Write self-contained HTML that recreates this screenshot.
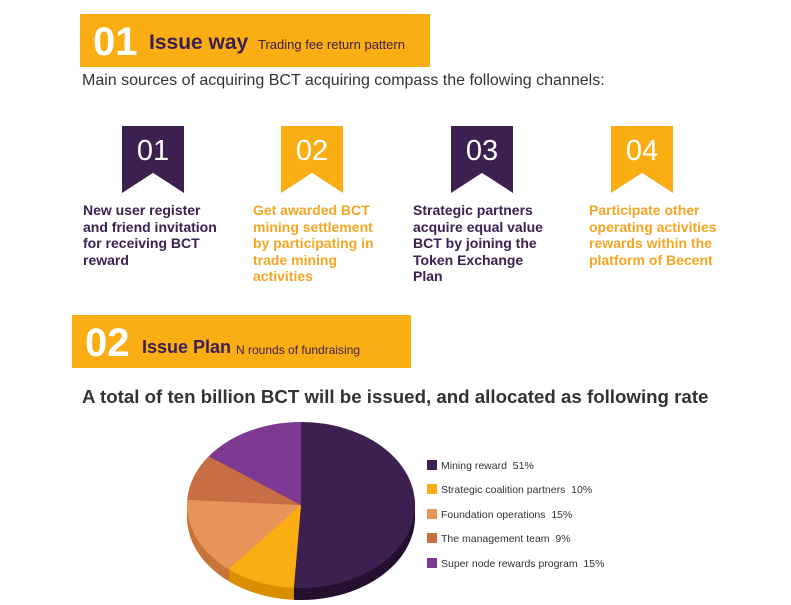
<!DOCTYPE html>
<html><head><meta charset="utf-8"><style>
body{margin:0;width:791px;height:605px;background:#fff;position:relative;overflow:hidden;font-family:"Liberation Sans",Arial,sans-serif}
.abs{position:absolute}
.banner{background:#FBAD14}
.ribbon{position:absolute;width:62px;height:67px;color:#fff;font-size:29px;text-align:center;line-height:50px;clip-path:polygon(0 0,100% 0,100% 100%,50% 70%,0 100%)}
.desc{position:absolute;top:202px;font-weight:bold;font-size:14px;line-height:16.5px;width:160px}
.pu{color:#3C2050}.or{color:#F5A623}
.leg{position:absolute;left:427px;font-size:10.5px;color:#333;white-space:nowrap}
.leg i{display:inline-block;width:10px;height:10px;margin-right:4px;vertical-align:-1px}
</style></head><body>
<div class="abs banner" style="left:80px;top:14px;width:350px;height:53px">
 <span class="abs" style="left:13px;top:6px;font-size:40px;font-weight:bold;color:#fff">01</span>
 <span class="abs" style="left:69px;top:17px;font-size:21px;font-weight:bold;color:#3C2050">Issue way</span>
 <span class="abs" style="left:178px;top:23px;font-size:13px;color:#3C2050">Trading fee return pattern</span>
</div>
<div class="abs" style="left:82px;top:72px;font-size:16px;color:#333">Main sources of acquiring BCT acquiring compass the following channels:</div>
<div class="ribbon" style="left:122px;top:126px;background:#3C2050">01</div>
<div class="ribbon" style="left:281px;top:126px;background:#FBAD14">02</div>
<div class="ribbon" style="left:451px;top:126px;background:#3C2050">03</div>
<div class="ribbon" style="left:611px;top:126px;background:#FBAD14">04</div>
<div class="desc pu" style="left:83px;width:135px">New user register and friend invitation for receiving BCT reward</div>
<div class="desc or" style="left:253px;width:140px">Get awarded BCT mining settlement by participating in trade mining activities</div>
<div class="desc pu" style="left:413px;width:138px">Strategic partners acquire equal value BCT by joining the Token Exchange Plan</div>
<div class="desc or" style="left:589px;width:150px">Participate other operating activities rewards within the platform of Becent</div>
<div class="abs banner" style="left:72px;top:315px;width:339px;height:53px">
 <span class="abs" style="left:13px;top:6px;font-size:40px;font-weight:bold;color:#fff">02</span>
 <span class="abs" style="left:70px;top:22px;font-size:18px;font-weight:bold;color:#3C2050">Issue Plan</span>
 <span class="abs" style="left:164px;top:28px;font-size:12px;color:#3C2050">N rounds of fundraising</span>
</div>
<div class="abs" style="left:82px;top:386px;font-size:18.7px;font-weight:bold;color:#333">A total of ten billion BCT will be issued, and allocated as following rate</div>
<svg class="abs" style="left:0;top:0" width="791" height="605" id="pie"></svg>
<div class="leg" style="top:460px"><i style="background:#3C2050"></i>Mining reward&nbsp; 51%</div>
<div class="leg" style="top:484px"><i style="background:#FBAD14"></i>Strategic coalition partners&nbsp; 10%</div>
<div class="leg" style="top:509px"><i style="background:#E8935A"></i>Foundation operations&nbsp; 15%</div>
<div class="leg" style="top:533px"><i style="background:#C96D45"></i>The management team&nbsp; 9%</div>
<div class="leg" style="top:558px"><i style="background:#7E3A92"></i>Super node rewards program&nbsp; 15%</div>
<script>
const categories=["Mining reward","Strategic coalition partners","Foundation operations","The management team","Super node rewards program"];
const values=[51,10,15,9,15];
const colors=["#3C2050","#FBAD14","#E8935A","#C96D45","#7E3A92"];
const sides=["#24102F","#D98E00","#C8733D","#A3552F","#5E2470"];
const svg=document.getElementById('pie');
const cx=301,cy=505,rx=114,ry=83,depth=12;
const total=values.reduce((a,b)=>a+b,0);
function pt(a,y0){return [cx+rx*Math.sin(a),y0-ry*Math.cos(a)];}
function slice(a0,a1,y0,fill,name){
 const p0=pt(a0,y0),p1=pt(a1,y0),large=(a1-a0)>Math.PI?1:0;
 const p=document.createElementNS('http://www.w3.org/2000/svg','path');
 p.setAttribute('d',`M${cx},${y0}L${p0[0]},${p0[1]}A${rx},${ry} 0 ${large} 1 ${p1[0]},${p1[1]}Z`);
 p.setAttribute('fill',fill);
 
 
 svg.appendChild(p);
}
for(let d=depth;d>0;d--){
 let a=0;
 values.forEach((v,i)=>{const a1=a+v/total*2*Math.PI;slice(a,a1,cy+d,sides[i],'pie-side');a=a1;});
}
let a=0;
values.forEach((v,i)=>{const a1=a+v/total*2*Math.PI;slice(a,a1,cy,colors[i],'pie-slice-'+i);a=a1;});
</script>
</body></html>
